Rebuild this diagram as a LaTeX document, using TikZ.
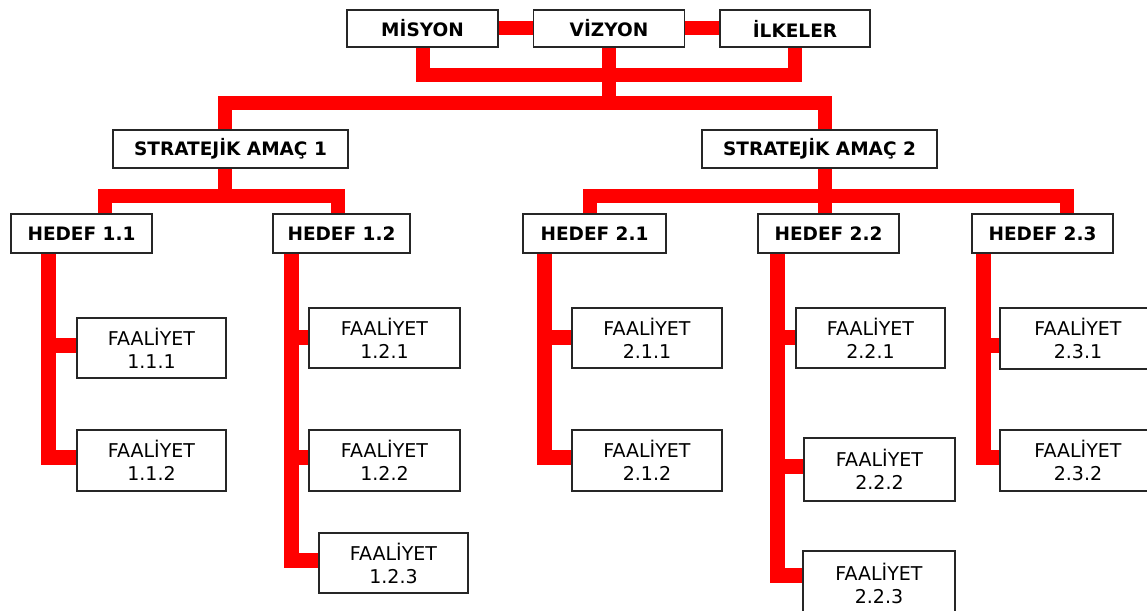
\documentclass[tikz,border=0pt]{standalone}
\usepackage{fontspec}
\setmainfont{DejaVu Sans}
\usetikzlibrary{backgrounds}
\tikzset{
  box/.style={draw=black!85, line width=1.3pt, fill=white, inner sep=0pt, anchor=center},
  hd/.style={box, font=\fontsize{18.5}{22}\selectfont\bfseries},
  fa/.style={box, align=center, font=\fontsize{19}{23}\selectfont},
  bus/.style={draw=red, line width=14pt, line join=miter},
  lbus/.style={draw=red, line width=15pt, line join=miter}
}
\begin{document}
\begin{tikzpicture}[x=1pt,y=-1pt]
\useasboundingbox (0,0) rectangle (1147,610);
% top row
\node[hd, minimum width=151pt, minimum height=37pt] (mis) at (422.5,28.5) {MİSYON};
\node[hd, minimum width=150.5pt, minimum height=37pt] (viz) at (609,28.5) {VİZYON};
\node[hd, minimum width=150pt, minimum height=37pt] (ilk) at (795,28.5) {İLKELER};
% strategic goals
\node[hd, minimum width=235pt, minimum height=38pt] (sa1) at (230.5,149) {STRATEJİK AMAÇ 1};
\node[hd, minimum width=235pt, minimum height=38pt] (sa2) at (819.5,149) {STRATEJİK AMAÇ 2};
% targets
\node[hd, minimum width=141pt, minimum height=39pt] (h11) at (81.5,233.5) {HEDEF 1.1};
\node[hd, minimum width=137pt, minimum height=39pt] (h12) at (341.5,233.5) {HEDEF 1.2};
\node[hd, minimum width=143pt, minimum height=39pt] (h21) at (594.5,233.5) {HEDEF 2.1};
\node[hd, minimum width=141pt, minimum height=39pt] (h22) at (828.5,233.5) {HEDEF 2.2};
\node[hd, minimum width=141pt, minimum height=39pt] (h23) at (1042.5,233.5) {HEDEF 2.3};
% activities
\node[fa, minimum width=149pt, minimum height=60pt] (f111) at (151.5,348) {FAALİYET\\1.1.1};
\node[fa, minimum width=149pt, minimum height=61pt] (f112) at (151.5,460.5) {FAALİYET\\1.1.2};
\node[fa, minimum width=151pt, minimum height=60pt] (f121) at (384.5,338) {FAALİYET\\1.2.1};
\node[fa, minimum width=151pt, minimum height=61pt] (f122) at (384.5,460.5) {FAALİYET\\1.2.2};
\node[fa, minimum width=149pt, minimum height=60pt] (f123) at (393.5,563) {FAALİYET\\1.2.3};
\node[fa, minimum width=150pt, minimum height=60pt] (f211) at (647,338) {FAALİYET\\2.1.1};
\node[fa, minimum width=150pt, minimum height=61pt] (f212) at (647,460.5) {FAALİYET\\2.1.2};
\node[fa, minimum width=149pt, minimum height=60pt] (f221) at (870.5,338) {FAALİYET\\2.2.1};
\node[fa, minimum width=151pt, minimum height=63pt] (f222) at (879.5,469.5) {FAALİYET\\2.2.2};
\node[fa, minimum width=152pt, minimum height=64pt] (f223) at (879,583) {FAALİYET\\2.2.3};
\node[fa, minimum width=156pt, minimum height=61pt] (f231) at (1078,338.5) {FAALİYET\\2.3.1};
\node[fa, minimum width=156pt, minimum height=61pt] (f232) at (1078,460.5) {FAALİYET\\2.3.2};

\begin{scope}[on background layer]
\fill[white] (0,0) rectangle (1147,610);
\coordinate (ub) at (0,75);
\coordinate (lb) at (0,103);
\coordinate (sb) at (0,195.5);
% top connectors
\draw[bus] (mis.east) -- (viz.west);
\draw[bus] (viz.east) -- (ilk.west);
\draw[bus] (mis.south) -- (mis.south |- ub) -| (ilk.south);
\draw[bus] (viz.south) -- (viz.south |- lb);
\draw[bus] ([xshift=-5.5pt]sa1.north) |- ([xshift=5.5pt]sa2.north |- lb) -- ([xshift=5.5pt]sa2.north);
% strategic goal 1
\draw[bus] ([xshift=-5.5pt]sa1.south) -- ([xshift=-5.5pt]sa1.south |- sb);
\draw[bus] ([xshift=23pt]h11.north) |- ([xshift=-3.5pt]h12.north |- sb) -- ([xshift=-3.5pt]h12.north);
% strategic goal 2
\draw[bus] ([xshift=5.5pt]sa2.south) -- ([xshift=5.5pt]sa2.south |- sb);
\draw[bus] ([xshift=-4.5pt]h21.north) |- ([xshift=24.5pt]h23.north |- sb) -- ([xshift=24.5pt]h23.north);
\draw[bus] ([xshift=-3.5pt]h22.north) -- ([xshift=-3.5pt]h22.north |- sb);
% activities
\draw[lbus] ([xshift=-33.5pt]h11.south) |- ([yshift=3pt]f111.west);
\draw[lbus] ([xshift=-33.5pt]h11.south) |- ([yshift=3.5pt]f112.west);
\draw[lbus] ([xshift=-50.5pt]h12.south) |- ([yshift=1pt]f121.west);
\draw[lbus] ([xshift=-50.5pt]h12.south) |- ([yshift=3.5pt]f122.west);
\draw[lbus] ([xshift=-50.5pt]h12.south) |- ([yshift=3pt]f123.west);
\draw[lbus] ([xshift=-50.5pt]h21.south) |- ([yshift=1pt]f211.west);
\draw[lbus] ([xshift=-50.5pt]h21.south) |- ([yshift=3.5pt]f212.west);
\draw[lbus] ([xshift=-51.5pt]h22.south) |- ([yshift=1pt]f221.west);
\draw[lbus] ([xshift=-51.5pt]h22.south) |- ([yshift=3.5pt]f222.west);
\draw[lbus] ([xshift=-51.5pt]h22.south) |- ([yshift=8pt]f223.west);
\draw[lbus] ([xshift=-59.5pt]h23.south) |- ([yshift=-6.5pt]f231.west);
\draw[lbus] ([xshift=-59.5pt]h23.south) |- ([yshift=3.5pt]f232.west);
\end{scope}
\end{tikzpicture}
\end{document}
